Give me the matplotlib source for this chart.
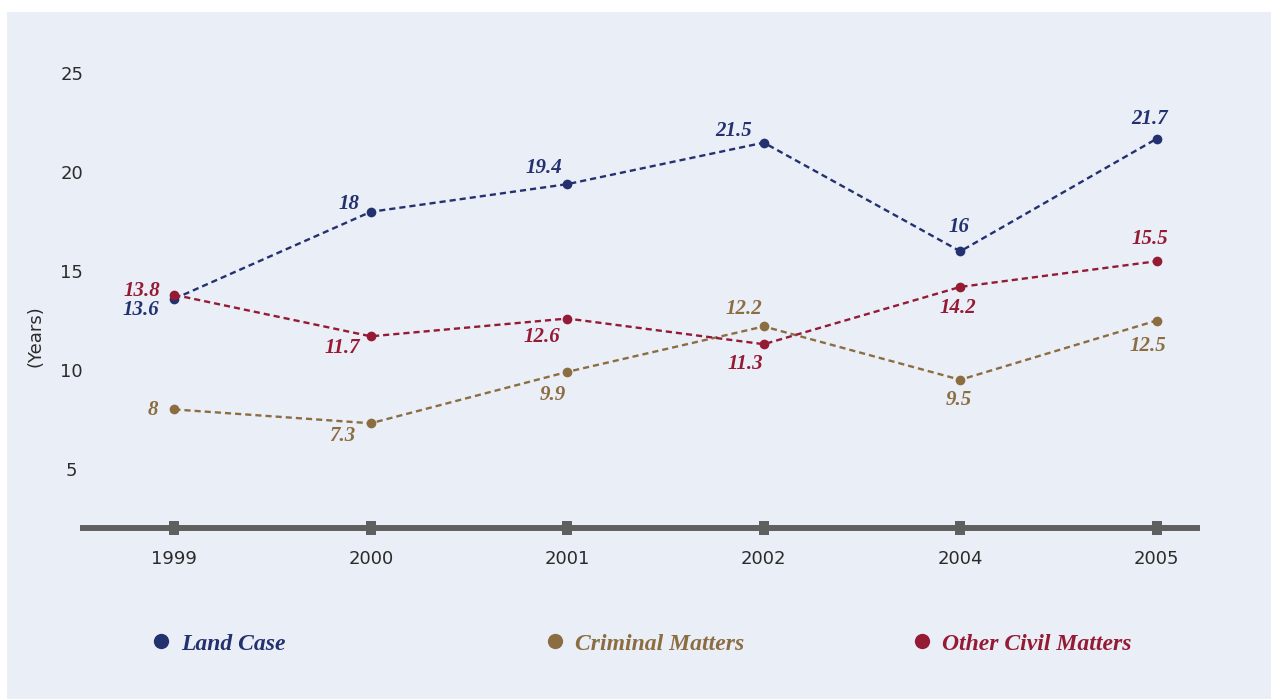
import matplotlib
matplotlib.use("Agg")
import matplotlib.pyplot as plt
from matplotlib.patches import Rectangle
from matplotlib.lines import Line2D

# ---- data ----
years = ["1999", "2000", "2001", "2002", "2004", "2005"]
land_case = [13.6, 18, 19.4, 21.5, 16, 21.7]
criminal_matters = [8, 7.3, 9.9, 12.2, 9.5, 12.5]
other_civil_matters = [13.8, 11.7, 12.6, 11.3, 14.2, 15.5]
y_ticks = [5, 10, 15, 20, 25]
series_names = ["Land Case", "Criminal Matters", "Other Civil Matters"]

# ---- styling ----
W, H, DPI = 1271, 699, 100
BG = "#EAEEF7"
NAVY = "#24316F"
BROWN = "#8C6D42"
CRIMSON = "#951A33"
AXIS_GREY = "#5F5F5F"
TEXT_GREY = "#2B2B2B"
LABEL_FONT = dict(family="Liberation Serif", style="italic", weight="bold")

# value-label offsets (pixels, right/down positive)
land_off = [(-33, 11), (-22, -8), (-23, -16), (-30, -12), (-1, -24), (-7, -20)]
crim_off = [(-21, 1), (-29, 13), (-14, 23), (-20, -17), (-1, 20), (-9, 25)]
civil_off = [(-32, -4), (-28, 12), (-25, 18), (-18, 20), (-2, 21), (-7, -22)]

fig = plt.figure(figsize=(W / DPI, H / DPI), dpi=DPI, facecolor="white")
fig.add_artist(Rectangle((7 / W, 0), 1 - 7 / W, 1 - 12 / H,
                         transform=fig.transFigure, facecolor=BG,
                         edgecolor="none", zorder=-10))

ax_left, ax_right = 80 / W, 1200 / W
ax_bottom, ax_top = 1 - 528 / H, 1 - 30 / H
ax = fig.add_axes([ax_left, ax_bottom, ax_right - ax_left, ax_top - ax_bottom])
ax.set_facecolor("none")

x = list(range(len(years)))
ax.set_xlim(-0.48, 5.22)
ax.set_ylim(2, 27.2)

dash = (0, (2.6, 1.7))
series = [(land_case, NAVY, land_off),
          (criminal_matters, BROWN, crim_off),
          (other_civil_matters, CRIMSON, civil_off)]
for vals, color, offs in series:
    ax.plot(x, vals, linestyle=dash, color=color, linewidth=1.7,
            marker="o", markersize=7, markeredgewidth=0, zorder=3)
    for xi, v, (dx, dy) in zip(x, vals, offs):
        label = f"{v:g}"
        ax.annotate(label, (xi, v), xytext=(dx * 0.72, -dy * 0.72),
                    textcoords="offset points", ha="center", va="center",
                    color=color, fontsize=15, **LABEL_FONT, zorder=4)

# axes frame: only a heavy baseline with square tick marks
for s in ["top", "right", "left"]:
    ax.spines[s].set_visible(False)
ax.spines["bottom"].set_color(AXIS_GREY)
ax.spines["bottom"].set_linewidth(4.3)
ax.spines["bottom"].set_capstyle("butt")

tick_marker = [(-0.39, -0.5), (0.39, -0.5), (0.39, 0.5), (-0.39, 0.5), (-0.39, -0.5)]
ax.plot(x, [2] * len(x), linestyle="none", marker=tick_marker, markersize=10,
        color=AXIS_GREY, markeredgewidth=0, clip_on=False, zorder=5)

ax.set_xticks(x)
ax.set_xticklabels(years)
ax.set_yticks(y_ticks)
ax.tick_params(axis="x", length=0, pad=16, labelsize=13, labelcolor=TEXT_GREY)
ax.tick_params(axis="y", length=0, pad=6, labelsize=13, labelcolor=TEXT_GREY)
for t in ax.get_yticklabels():
    t.set_horizontalalignment("center")
    t.set_fontfamily("DejaVu Sans")
for t in ax.get_xticklabels():
    t.set_fontfamily("DejaVu Sans")

fig.text(35 / W, 1 - 336 / H, "(Years)", rotation=90, ha="center",
         va="center", fontsize=13, color=TEXT_GREY, family="DejaVu Sans")

# legend row
legend_items = [(161, NAVY), (555, BROWN), (922, CRIMSON)]
for name, (px, color) in zip(series_names, legend_items):
    fig.add_artist(Line2D([px / W], [1 - 641 / H], transform=fig.transFigure,
                          marker="o", markersize=11, color=color,
                          markeredgewidth=0, linestyle="none"))
    fig.text((px + 20) / W, 1 - 644 / H, name, ha="left", va="center",
             fontsize=17, color=color, **LABEL_FONT)

fig.savefig("out.png", dpi=DPI, facecolor="white")
